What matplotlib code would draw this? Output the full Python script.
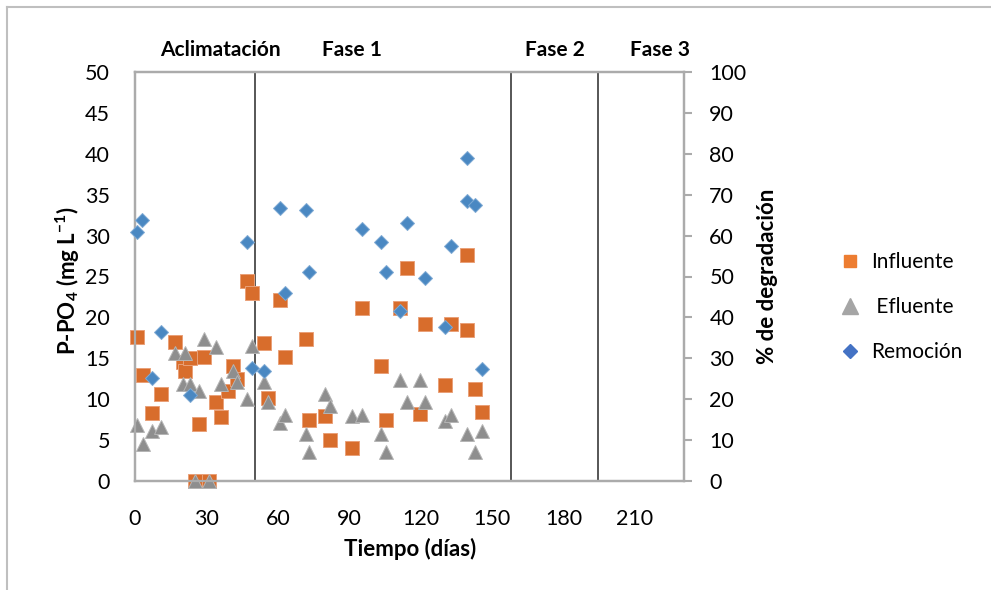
import matplotlib
matplotlib.use('Agg')
import matplotlib.pyplot as plt
from matplotlib.lines import Line2D

plt.rcParams['font.family'] = ['Lato', 'DejaVu Sans']
plt.rcParams['mathtext.fontset'] = 'custom'
plt.rcParams['mathtext.rm'] = 'Lato:bold'
plt.rcParams['mathtext.default'] = 'rm'

# P-PO4 influente (mg/L)
infl_dias = [1, 3.2, 7.2, 11, 17, 20, 21, 23.3, 25, 27, 29, 31, 34, 36, 39, 41, 43,
             47, 49, 54, 56, 61, 63, 72, 73, 80, 82, 91, 95.3, 103.5, 105.6, 111.5,
             114.4, 119.6, 121.6, 130, 132.6, 139.5, 139.5, 142.7, 145.6]
infl_p = [17.6, 12.9, 8.35, 10.6, 17.0, 14.5, 13.4, 15.0, 0, 7.0, 15.2, 0, 9.6, 7.8,
          11.0, 14.0, 12.5, 24.5, 23.0, 16.9, 10.2, 22.1, 15.1, 17.3, 7.5, 7.9, 5.0,
          4.0, 21.2, 14.0, 7.5, 21.1, 26.1, 8.2, 19.2, 11.7, 19.2, 27.6, 18.5, 11.2, 8.4]

# P-PO4 efluente (mg/L)
efl_dias = [1, 3.2, 7, 11, 17, 20, 21, 23, 25, 27, 29, 31, 34, 36, 41, 43, 47, 49,
            54, 56, 61, 63, 72, 73, 80, 82, 91, 95.3, 103.5, 105.6, 111.5, 114.4,
            119.6, 121.6, 130, 132.6, 139.5, 142.7, 145.6]
efl_p = [6.8, 4.5, 6.1, 6.6, 15.6, 11.9, 15.7, 11.9, 0, 11.0, 17.4, 0, 16.4, 11.9,
         13.4, 12.1, 10.0, 16.5, 12.1, 9.6, 7.1, 8.1, 5.7, 3.6, 10.6, 9.2, 7.9, 8.1,
         5.7, 3.6, 12.3, 9.6, 12.3, 9.6, 7.3, 8.1, 5.7, 3.6, 6.1]

# % de remocion (eje derecho)
rem_dias = [1, 3, 7, 11, 23, 47, 49, 54, 61, 63, 72, 73, 95.3, 103.5, 105.6, 111.5,
            114.4, 121.6, 130, 132.6, 139.5, 139.5, 142.7, 145.6]
rem_pct = [61, 63.8, 25.3, 36.4, 21, 58.4, 27.7, 27, 66.8, 45.9, 66.3, 51.2, 61.5,
           58.4, 51.2, 41.6, 63, 49.7, 37.7, 57.5, 78.9, 68.5, 67.6, 27.4]

fases = ['Aclimatación', 'Fase 1', 'Fase 2', 'Fase 3']
fases_centro = [36, 91, 176.5, 220.5]
cambios_fase = [50.5, 157.8, 194.6]

gris_eje = '#ABABAB'

fig = plt.figure(figsize=(9.91, 5.90), dpi=100)
ax = fig.add_axes([135 / 991, 1 - 481 / 590, 549.3 / 991, 409 / 590])
ax2 = ax.twinx()

ax.plot(infl_dias, infl_p, 's', ms=10, color='#D86D2C', mec='#E9A078', mew=0.7,
        clip_on=False, zorder=3)
ax.plot(efl_dias, efl_p, '^', ms=10.5, color='#8E8E8E', mec='#B5B5B5', mew=0.7,
        clip_on=False, zorder=4)
ax2.plot(rem_dias, rem_pct, 'D', ms=6.8, color='#4A88C2', mec='#7FAAD4', mew=0.7,
         clip_on=False, zorder=5)

for x in cambios_fase:
    ax.axvline(x, color='#3A3A3A', lw=1.2, zorder=2)

for nombre, xc in zip(fases, fases_centro):
    ax.text(xc, 1.054, nombre, transform=ax.get_xaxis_transform(), ha='center',
            va='center', fontsize=15, fontweight='bold')

ax.set_xlim(0, 230.7)
ax.set_ylim(0, 50)
ax2.set_ylim(0, 100)
ax.set_xticks(range(0, 211, 30))
ax.set_yticks(range(0, 51, 5))
ax2.set_yticks(range(0, 101, 10))

ax.tick_params(axis='both', length=0, labelsize=15.5, colors='#000000')
ax.tick_params(axis='x', pad=20)
ax.tick_params(axis='y', pad=18)
ax2.tick_params(axis='y', direction='out', length=6, width=1.5, color=gris_eje,
                labelsize=15.5, pad=12)

for a in (ax, ax2):
    for s in a.spines.values():
        s.set_color(gris_eje)
        s.set_linewidth(1.6)

ax.set_xlabel('Tiempo (días)', fontsize=16, fontweight='bold', va='center')
ax.xaxis.set_label_coords(0.5, -0.166)
ax.set_ylabel(r'P-PO$_4$ (mg L$^{-1}$)', fontsize=16, fontweight='bold',
              va='center', ha='center')
ax.yaxis.set_label_coords(-0.122, 0.49)
ax2.set_ylabel('% de degradación', fontsize=16, fontweight='bold', va='center',
               ha='center', rotation=90)
ax2.yaxis.set_label_coords(1.152, 0.5)

handles = [
    Line2D([], [], ls='none', marker='s', ms=9, color='#ED7D31'),
    Line2D([], [], ls='none', marker='^', ms=11, color='#A5A5A5'),
    Line2D([], [], ls='none', marker='D', ms=7, color='#4472C4'),
]
fig.legend(handles, ['Influente', ' Efluente', 'Remoción'], loc='center left',
           bbox_to_anchor=(819 / 991, 1 - 307 / 590), frameon=False, fontsize=15,
           labelspacing=1.2, handletextpad=0.4, handlelength=1.2)

# borde del area del grafico
fig.add_artist(Line2D([7 / 991, 7 / 991], [0, 1 - 7 / 590], transform=fig.transFigure,
                      color='#BFBFBF', lw=1.5))
fig.add_artist(Line2D([7 / 991, 1], [1 - 7 / 590, 1 - 7 / 590], transform=fig.transFigure,
                      color='#BFBFBF', lw=1.5))

fig.savefig('out.png', dpi=100)
